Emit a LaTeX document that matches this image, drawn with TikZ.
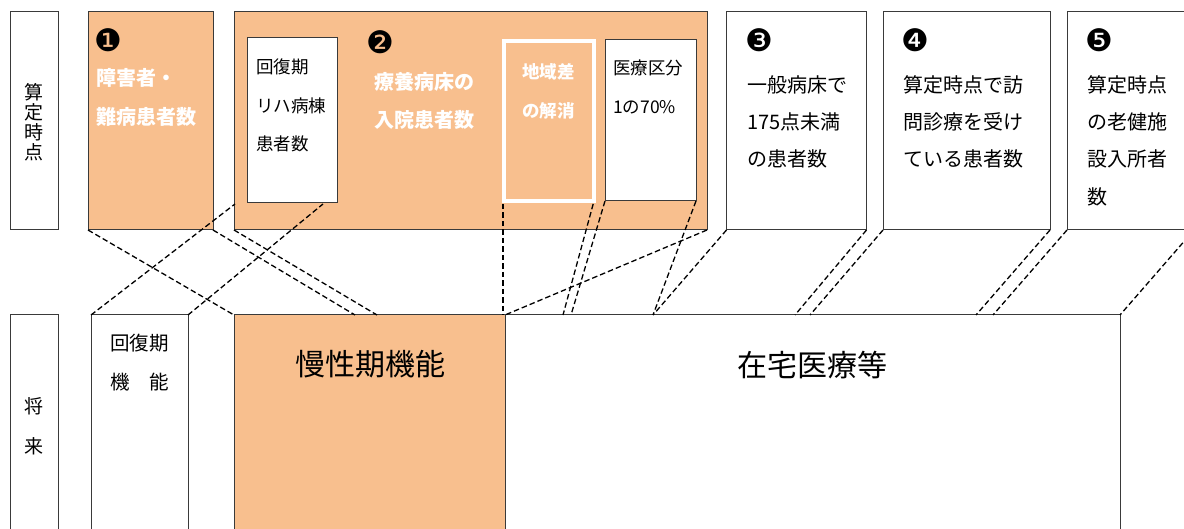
\documentclass[tikz,border=0pt]{standalone}
\usepackage{fontspec}
\setmainfont{Noto Sans CJK JP}
\newfontfamily\dvs{DejaVu Sans}
\usetikzlibrary{calc}
\definecolor{org}{HTML}{F8BF8E}
\definecolor{edgec}{HTML}{3A3A3A}
\begin{document}
\begin{tikzpicture}[x=1pt,y=-1pt,
  box/.style={draw=edgec,line width=1pt,anchor=north west,inner sep=0pt,outer sep=0pt},
  obox/.style={box,fill=org},
  wbox/.style={box,fill=white},
  link/.style={line width=1.3pt,dash pattern=on 5.5pt off 3pt},
  lbl/.style={anchor=west,inner sep=0pt},
  num/.style={anchor=center,inner sep=0pt,font=\dvs\fontsize{31}{31}\selectfont},
  fa/.style={font=\fontsize{20}{20}\selectfont},
  fb/.style={font=\fontsize{20}{20}\selectfont\bfseries,text=white},
  fc/.style={font=\fontsize{17.5}{17.5}\selectfont},
  fd/.style={font=\fontsize{17.5}{17.5}\selectfont\bfseries,text=white},
  fe/.style={font=\fontsize{19.5}{19.5}\selectfont},
  big/.style={anchor=center,inner sep=0pt,font=\fontsize{30}{30}\selectfont}]
\useasboundingbox (0,0) rectangle (1184,529);
\clip (0,0) rectangle (1184,529);

% upper row
\node[wbox,minimum width=48,minimum height=218] (lab1) at (10,12) {};
\node[obox,minimum width=125,minimum height=218] (b1) at (88,12) {};
\node[obox,minimum width=473,minimum height=218] (b2) at (234,12) {};
\node[wbox,minimum width=90,minimum height=165] (r1) at (247,38) {};
\node[box,draw=white,line width=4pt,minimum width=90,minimum height=160] (chiiki) at (504,41) {};
\node[wbox,minimum width=91,minimum height=161] (iryo) at (605,40) {};
\node[wbox,minimum width=140,minimum height=218] (b3) at (726.5,12) {};
\node[wbox,minimum width=167,minimum height=218] (b4) at (883,12) {};
\node[wbox,minimum width=127,minimum height=218] (b5) at (1067,12) {};

% lower row
\node[wbox,minimum width=48,minimum height=230] (lab2) at (10,315) {};
\node[wbox,minimum width=97,minimum height=230] (kaif) at (91,315) {};
\node[obox,minimum width=271,minimum height=230] (mansei) at (234,315) {};
\node[wbox,minimum width=615,minimum height=230] (zaitaku) at (505,315) {};

% texts
\node[align=center,inner sep=0pt,font=\fontsize{19}{20}\selectfont] (v1) at (34,122) {算\\定\\時\\点};
\node[align=center,inner sep=0pt,font=\fontsize{19}{40}\selectfont] (v2) at (34,426) {将\\来};

\node[num] (n1) at (108,40) {❶};
\node[lbl,fb] (t1a) at (96,78) {障害者・};
\node[lbl,fb] (t1b) at (96,117) {難病患者数};

\node[num] (n2) at (380,42) {❷};
\node[lbl,fb] (t2a) at (374,82) {療養病床の};
\node[lbl,fb] (t2b) at (374,120) {入院患者数};

\node[lbl,fc] (r1a) at (256,67) {回復期};
\node[lbl,fc] (r1b) at (256,106) {リハ病棟};
\node[lbl,fc] (r1c) at (256,144) {患者数};

\node[lbl,fd] (c1a) at (522,72) {地域差};
\node[lbl,fd] (c1b) at (522,111) {の解消};

\node[lbl,fc] (i1a) at (613,68) {医療区分};
\node[lbl,fc] (i1b) at (613,107) {1の70\%};

\node[num] (n3) at (759,40) {❸};
\node[lbl,fa] (t3a) at (747,85) {一般病床で};
\node[lbl,fa] (t3b) at (747,122) {175点未満};
\node[lbl,fa] (t3c) at (747,159) {の患者数};

\node[num] (n4) at (915,40) {❹};
\node[lbl,fa] (t4a) at (903,85) {算定時点で訪};
\node[lbl,fa] (t4b) at (903,122) {問診療を受け};
\node[lbl,fa] (t4c) at (903,159) {ている患者数};

\node[num] (n5) at (1099,40) {❺};
\node[lbl,fa] (t5a) at (1087,85) {算定時点};
\node[lbl,fa] (t5b) at (1087,122) {の老健施};
\node[lbl,fa] (t5c) at (1087,159) {設入所者};
\node[lbl,fa] (t5d) at (1087,197) {数};

\node[lbl,fe] (k1a) at (110,343) {回復期};
\node[lbl,fe] (k1b) at (110,382) {機　能};

\node[big] (mt) at (370,364) {慢性期機能};
\node[big] (zt) at (812,365) {在宅医療等};

% free ends
\coordinate (kA) at (235,204);
\coordinate (kB) at (323,204);
\coordinate (m1) at (355,315);
\coordinate (m2) at (377,315);
\coordinate (z1) at (563,315);
\coordinate (z2) at (571,315);
\coordinate (z3) at (653,315);
\coordinate (z4) at (795,315);
\coordinate (z5) at (810,315);
\coordinate (z6) at (976,315);
\coordinate (z7) at (993,315);

% connectors
\draw[link] (b1.south west) -- (mansei.north west);
\draw[link] (kaif.north west) -- (kA);
\draw[link] (kaif.north east) -- (kB);
\draw[link] (b1.south east) -- (m1);
\draw[link] (b2.south west) -- (m2);
\draw[link,shorten <=3pt] ([xshift=-1pt]chiiki.south west) -- ([xshift=-1pt]chiiki.south west |- mansei.north east);
\draw[link] (b2.south east) -- (zaitaku.north west);
\draw[link,shorten <=3pt] (chiiki.south east) -- (z1);
\draw[link] (iryo.south west) -- (z2);
\draw[link] (iryo.south east) -- (z3);
\draw[link] (b3.south west) -- (z3);
\draw[link] (b3.south east) -- (z4);
\draw[link] (b4.south west) -- (z5);
\draw[link] (b4.south east) -- (z6);
\draw[link] (b5.south west) -- (z7);
\draw[link] (b5.south east) -- (zaitaku.north east);
\end{tikzpicture}
\end{document}
